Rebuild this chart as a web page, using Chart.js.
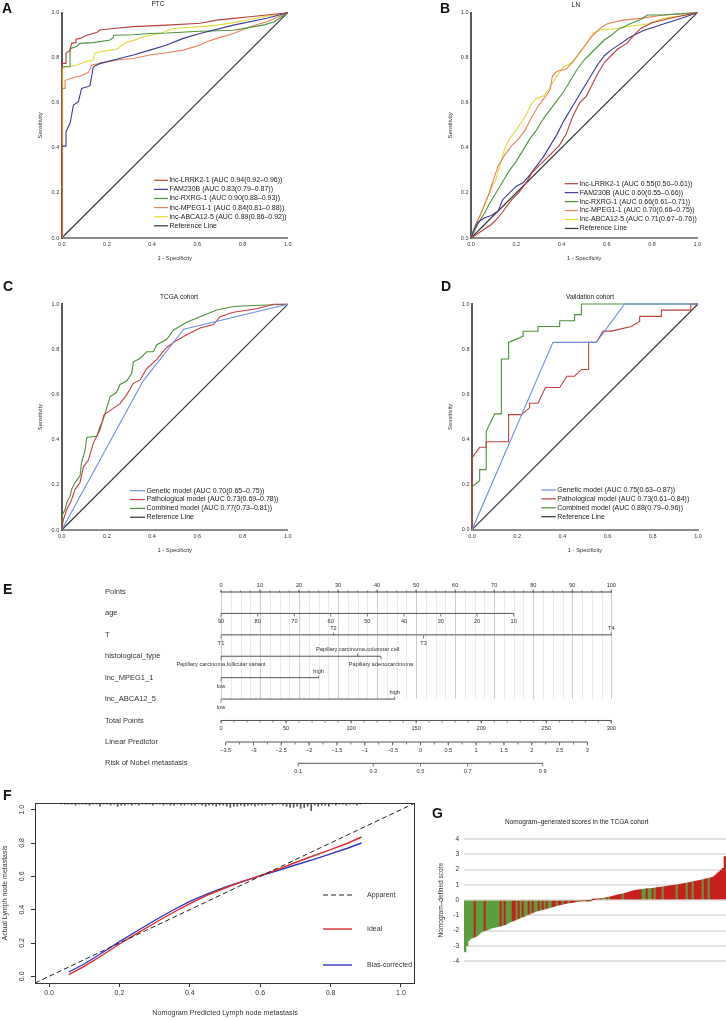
<!DOCTYPE html>
<html>
<head>
<meta charset="utf-8">
<script src="https://cdn.jsdelivr.net/npm/chart.js@4.4.0/dist/chart.umd.min.js"></script>
<style>
body { margin: 0; width: 726px; height: 1020px; position: relative; background: #fff; overflow: hidden; font-family: "Liberation Sans", Arial, sans-serif; }
canvas { position: absolute; }
.tag { position: absolute; font-weight: bold; font-size: 14px; line-height: 14px; color: #111; }
</style>
</head>
<body>
<canvas id="rocA" width="363" height="270" style="left:0;top:0"></canvas>
<canvas id="rocB" width="363" height="270" style="left:363px;top:0"></canvas>
<canvas id="rocC" width="363" height="292" style="left:0;top:270px"></canvas>
<canvas id="rocD" width="363" height="292" style="left:363px;top:270px"></canvas>
<canvas id="nomo" width="726" height="230" style="left:0;top:560px"></canvas>
<canvas id="calib" width="420" height="230" style="left:0;top:790px"></canvas>
<canvas id="scores" width="306" height="220" style="left:420px;top:800px"></canvas>
<div class="tag" style="left:2px;top:1px">A</div>
<div class="tag" style="left:440px;top:1px">B</div>
<div class="tag" style="left:3px;top:279px">C</div>
<div class="tag" style="left:441px;top:279px">D</div>
<div class="tag" style="left:3px;top:582px">E</div>
<div class="tag" style="left:3px;top:788px">F</div>
<div class="tag" style="left:432px;top:806px">G</div>
<script>
// ---- ROC data, [1 - specificity, sensitivity] ----
const rocTicks = [0, 0.2, 0.4, 0.6, 0.8, 1];
const referenceLine = [[0, 0], [1, 1]];

// A: PTC
const ptcLabels = ['lnc-LRRK2-1 (AUC 0.94(0.92\u20130.96))', 'FAM230B (AUC 0.83(0.79\u20130.87))', 'lnc-RXRG-1 (AUC 0.90(0.88\u20130.93))', 'lnc-MPEG1-1 (AUC 0.84(0.81\u20130.88))', 'lnc-ABCA12-5 (AUC 0.89(0.86\u20130.92))', 'Reference Line'];
const ptcLrrk2 = [[0,0],[0,0.775],[0.019,0.775],[0.019,0.82],[0.037,0.834],[0.044,0.864],[0.059,0.867],[0.063,0.882],[0.081,0.886],[0.111,0.9],[0.155,0.912],[0.169,0.923],[0.228,0.93],[0.317,0.938],[0.465,0.945],[0.612,0.953],[0.686,0.967],[0.76,0.975],[0.833,0.982],[1,1]];
const ptcFam230b = [[0,0],[0,0.408],[0.019,0.408],[0.019,0.472],[0.037,0.509],[0.052,0.59],[0.074,0.605],[0.088,0.664],[0.125,0.675],[0.14,0.76],[0.17,0.775],[0.243,0.793],[0.317,0.812],[0.39,0.834],[0.465,0.857],[0.538,0.886],[0.612,0.908],[0.76,0.945],[0.907,0.975],[1,1]];
const ptcRxrg = [[0,0],[0,0.76],[0.037,0.76],[0.037,0.84],[0.066,0.85],[0.081,0.864],[0.14,0.867],[0.214,0.879],[0.229,0.89],[0.229,0.9],[0.317,0.902],[0.39,0.908],[0.465,0.91],[0.612,0.918],[0.76,0.922],[0.834,0.935],[0.9,0.947],[0.94,0.96],[1,1]];
const ptcMpeg1 = [[0,0],[0,0.664],[0.015,0.664],[0.015,0.7],[0.044,0.709],[0.081,0.719],[0.118,0.734],[0.133,0.768],[0.17,0.775],[0.243,0.79],[0.317,0.797],[0.39,0.812],[0.465,0.822],[0.538,0.834],[0.612,0.857],[0.642,0.871],[0.686,0.886],[0.76,0.908],[0.833,0.938],[0.907,0.96],[1,1]];
const ptcAbca12 = [[0.004,0],[0.004,0.753],[0.022,0.76],[0.066,0.768],[0.11,0.783],[0.14,0.79],[0.147,0.82],[0.17,0.827],[0.214,0.834],[0.243,0.837],[0.288,0.87],[0.317,0.876],[0.361,0.893],[0.435,0.908],[0.494,0.93],[0.612,0.938],[0.686,0.945],[0.76,0.956],[0.892,0.982],[1,1]];

// B: LN
const lnLabels = ['lnc-LRRK2-1 (AUC 0.55(0.50\u20130.61))', 'FAM230B (AUC 0.60(0.55\u20130.66))', 'lnc-RXRG-1 (AUC 0.66(0.61\u20130.71))', 'lnc-MPEG1-1 (AUC 0.70(0.66\u20130.75))', 'lnc-ABCA12-5 (AUC 0.71(0.67\u20130.76))', 'Reference Line'];
const lnLrrk2 = [[0,0],[0.03,0.02],[0.06,0.04],[0.09,0.06],[0.12,0.09],[0.15,0.13],[0.18,0.17],[0.21,0.2],[0.24,0.24],[0.27,0.29],[0.3,0.32],[0.33,0.35],[0.36,0.38],[0.39,0.41],[0.42,0.46],[0.45,0.54],[0.48,0.6],[0.51,0.63],[0.53,0.67],[0.56,0.73],[0.59,0.78],[0.62,0.81],[0.65,0.84],[0.69,0.865],[0.72,0.9],[0.75,0.93],[0.8,0.955],[0.88,0.975],[0.95,0.99],[1,1]];
const lnFam230b = [[0,0],[0.01,0.03],[0.03,0.07],[0.06,0.09],[0.09,0.1],[0.12,0.12],[0.14,0.17],[0.17,0.2],[0.2,0.23],[0.23,0.245],[0.26,0.28],[0.29,0.32],[0.32,0.36],[0.35,0.41],[0.38,0.46],[0.41,0.52],[0.44,0.57],[0.47,0.62],[0.5,0.67],[0.53,0.72],[0.56,0.77],[0.59,0.81],[0.62,0.835],[0.65,0.855],[0.7,0.89],[0.76,0.92],[0.85,0.95],[0.93,0.975],[1,1]];
const lnRxrg = [[0,0],[0.02,0.04],[0.04,0.08],[0.06,0.11],[0.08,0.15],[0.11,0.2],[0.14,0.25],[0.17,0.3],[0.2,0.34],[0.23,0.39],[0.26,0.44],[0.29,0.48],[0.32,0.53],[0.35,0.57],[0.38,0.61],[0.41,0.65],[0.44,0.7],[0.47,0.75],[0.5,0.79],[0.53,0.82],[0.56,0.85],[0.59,0.88],[0.62,0.9],[0.65,0.925],[0.7,0.95],[0.75,0.97],[0.78,0.99],[0.85,0.99],[0.92,0.995],[1,1]];
const lnMpeg1 = [[0,0],[0.02,0.06],[0.04,0.1],[0.06,0.15],[0.08,0.2],[0.1,0.26],[0.12,0.32],[0.15,0.37],[0.18,0.41],[0.21,0.44],[0.24,0.48],[0.27,0.54],[0.3,0.59],[0.33,0.63],[0.35,0.66],[0.36,0.72],[0.38,0.74],[0.42,0.75],[0.44,0.77],[0.47,0.81],[0.5,0.85],[0.53,0.89],[0.57,0.93],[0.6,0.95],[0.67,0.967],[0.75,0.975],[0.85,0.99],[1,1]];
const lnAbca12 = [[0,0],[0.01,0.03],[0.03,0.08],[0.05,0.12],[0.07,0.17],[0.09,0.22],[0.11,0.26],[0.13,0.33],[0.15,0.4],[0.17,0.44],[0.2,0.48],[0.24,0.54],[0.27,0.6],[0.29,0.62],[0.32,0.63],[0.35,0.67],[0.38,0.72],[0.41,0.76],[0.45,0.78],[0.48,0.82],[0.51,0.86],[0.54,0.91],[0.58,0.925],[0.65,0.93],[0.7,0.94],[0.78,0.95],[0.85,0.975],[0.92,0.985],[1,1]];

// C: TCGA cohort
const tcgaLabels = ['Genetic model (AUC 0.70(0.65\u20130.75))', 'Pathological model (AUC 0.73(0.69\u20130.78))', 'Combined model (AUC 0.77(0.73\u20130.81))', 'Reference Line'];
const tcgaGenetic = [[0,0],[0.36,0.66],[0.54,0.89],[1,1]];
const tcgaPathological = [[0,0],[0.007,0.045],[0.022,0.09],[0.037,0.12],[0.044,0.135],[0.059,0.18],[0.081,0.21],[0.096,0.28],[0.118,0.31],[0.14,0.385],[0.17,0.445],[0.187,0.51],[0.229,0.54],[0.258,0.56],[0.288,0.6],[0.317,0.65],[0.347,0.665],[0.376,0.715],[0.42,0.755],[0.465,0.81],[0.509,0.84],[0.553,0.865],[0.612,0.895],[0.671,0.91],[0.701,0.945],[0.76,0.965],[0.863,0.98],[0.937,1],[1,1]];
const tcgaCombined = [[0,0],[0.004,0.07],[0.015,0.09],[0.022,0.12],[0.037,0.15],[0.044,0.18],[0.059,0.21],[0.081,0.24],[0.088,0.3],[0.103,0.35],[0.111,0.41],[0.155,0.415],[0.17,0.46],[0.184,0.49],[0.199,0.54],[0.214,0.59],[0.243,0.61],[0.258,0.645],[0.288,0.66],[0.31,0.695],[0.317,0.745],[0.347,0.76],[0.376,0.79],[0.406,0.79],[0.42,0.82],[0.465,0.845],[0.494,0.885],[0.553,0.92],[0.612,0.945],[0.686,0.975],[0.76,0.99],[0.85,0.995],[1,1]];

// D: Validation cohort
const valLabels = ['Genetic model (AUC 0.75(0.63\u20130.87))', 'Pathological model (AUC 0.73(0.61\u20130.84))', 'Combined model (AUC 0.88(0.79\u20130.96))', 'Reference Line'];
const valGenetic = [[0,0],[0.358,0.83],[0.55,0.83],[0.675,1],[1,1]];
const valPathological = [[0,0],[0,0.318],[0.034,0.365],[0.063,0.365],[0.063,0.39],[0.162,0.39],[0.162,0.51],[0.218,0.51],[0.255,0.54],[0.255,0.56],[0.292,0.56],[0.325,0.63],[0.388,0.63],[0.42,0.68],[0.454,0.68],[0.484,0.71],[0.516,0.71],[0.516,0.83],[0.55,0.83],[0.58,0.88],[0.616,0.88],[0.705,0.9],[0.742,0.923],[0.742,0.945],[0.838,0.945],[0.838,0.973],[0.968,0.973],[0.968,1],[1,1]];
const valCombined = [[0,0],[0,0.19],[0.034,0.217],[0.034,0.266],[0.063,0.266],[0.063,0.436],[0.1,0.513],[0.13,0.513],[0.13,0.756],[0.162,0.756],[0.162,0.83],[0.226,0.857],[0.226,0.879],[0.292,0.879],[0.292,0.9],[0.388,0.9],[0.388,0.926],[0.454,0.926],[0.454,0.953],[0.484,0.953],[0.484,1],[1,1]];

// ---- E: nomogram scales (position in points, 0-100) ----
const nomoRows = ['Points', 'age', 'T', 'histological_type', 'lnc_MPEG1_1', 'lnc_ABCA12_5', 'Total Points', 'Linear Predictor', 'Risk of Nobel metastasis'];
const pointsTicks = [0, 10, 20, 30, 40, 50, 60, 70, 80, 90, 100];
const ageValues = [90, 80, 70, 60, 50, 40, 30, 20, 10];
const agePoints = [0, 9.4, 18.8, 28.1, 37.5, 46.9, 56.3, 65.6, 75];
const tLevels = ['T1', 'T2', 'T3', 'T4'];
const tPoints = [0, 28.8, 51.9, 100];
const histLevels = ['Papillary carcinoma,follicular variant', 'Papillary carcinoma,columnar cell', 'Papillary adenocarcinoma'];
const histPoints = [0, 35, 41];
const mpegLevels = ['low', 'high'];
const mpegPoints = [0, 25];
const abcaLevels = ['low', 'high'];
const abcaPoints = [0, 44.5];
const totalTicks = [0, 50, 100, 150, 200, 250, 300];
const lpTicks = [-3.5, -3, -2.5, -2, -1.5, -1, -0.5, 0, 0.5, 1, 1.5, 2, 2.5, 3];
const riskTicks = [0.1, 0.3, 0.5, 0.7, 0.9];
const LP_ZERO_POINTS = 51.1;
const POINTS_PER_LP = 14.26;

// ---- F: calibration ----
const calibTicks = [0, 0.2, 0.4, 0.6, 0.8, 1];
const calibApparent = [[-0.04, -0.04], [1.04, 1.04]];
const calibIdeal = [[0.056,0.01],[0.1,0.06],[0.15,0.125],[0.2,0.194],[0.25,0.258],[0.3,0.32],[0.35,0.38],[0.4,0.436],[0.45,0.487],[0.5,0.53],[0.55,0.568],[0.6,0.604],[0.65,0.642],[0.7,0.683],[0.75,0.722],[0.8,0.76],[0.85,0.8],[0.888,0.836]];
const calibBias = [[0.056,0.026],[0.1,0.074],[0.15,0.14],[0.2,0.208],[0.25,0.272],[0.3,0.335],[0.35,0.395],[0.4,0.45],[0.45,0.495],[0.5,0.535],[0.55,0.57],[0.6,0.603],[0.65,0.635],[0.7,0.668],[0.75,0.7],[0.8,0.735],[0.85,0.77],[0.888,0.8]];
const rugX = [0.035,0.045,0.055,0.065,0.075,0.085,0.095,0.105,0.115,0.125,0.135,0.145,0.155,0.165,0.175,0.185,0.195,0.205,0.215,0.225,0.235,0.245,0.255,0.265,0.275,0.285,0.295,0.305,0.315,0.325,0.335,0.345,0.355,0.365,0.375,0.385,0.395,0.405,0.415,0.425,0.435,0.445,0.455,0.465,0.475,0.485,0.495,0.505,0.515,0.525,0.535,0.545,0.555,0.565,0.575,0.585,0.595,0.605,0.615,0.625,0.635,0.645,0.655,0.665,0.675,0.685,0.695,0.705,0.715,0.725,0.735,0.745,0.755,0.765,0.775,0.785,0.795,0.805,0.815,0.825,0.835,0.845,0.855,0.865,0.875,0.885];
const rugCount = [1,1,1,1,2,1,1,1,2,1,1,3,1,1,2,1,3,2,2,1,2,1,2,1,1,1,2,1,1,2,1,2,2,1,2,2,1,2,2,1,2,3,2,2,3,2,2,3,4,3,3,2,3,2,2,3,2,2,2,1,2,1,1,2,3,4,4,3,5,4,3,7,2,3,2,2,3,1,2,1,1,2,1,1,2,1];

// ---- G: nomogram scores, sorted (1 = metastasis, 0 = none) ----
const gScores = [
  -3.4, -3.0, -2.65, -2.52, -2.47, -2.42, -2.35, -2.25, -2.12, -2.06,
  -2.0, -1.97, -1.92, -1.86, -1.82, -1.79, -1.76, -1.73, -1.7, -1.66,
  -1.62, -1.55, -1.48, -1.42, -1.37, -1.32, -1.27, -1.21, -1.14, -1.1,
  -1.05, -0.98, -0.93, -0.88, -0.82, -0.77, -0.72, -0.69, -0.65, -0.62,
  -0.59, -0.55, -0.51, -0.48, -0.44, -0.4, -0.36, -0.33, -0.3, -0.27,
  -0.24, -0.21, -0.19, -0.17, -0.15, -0.13, -0.11, -0.09, -0.07, -0.05,
  -0.04, -0.03, -0.02, -0.01, 0.02, 0.04, 0.06, 0.08, 0.1, 0.12,
  0.14, 0.16, 0.19, 0.22, 0.25, 0.29, 0.32, 0.35, 0.38, 0.41,
  0.44, 0.48, 0.52, 0.56, 0.6, 0.63, 0.65, 0.67, 0.68, 0.7,
  0.72, 0.74, 0.75, 0.76, 0.77, 0.79, 0.81, 0.83, 0.85, 0.86,
  0.88, 0.9, 0.92, 0.94, 0.96, 0.98, 1.0, 1.02, 1.04, 1.07,
  1.09, 1.12, 1.14, 1.17, 1.2, 1.22, 1.25, 1.28, 1.31, 1.34,
  1.37, 1.4, 1.43, 1.46, 1.5, 1.6, 1.72, 1.84, 1.95, 2.08,
  2.85
];
const gGroup = [
  0,0,0,0,0,1,0,0,0,0,
  1,0,0,0,0,0,0,0,1,0,
  1,0,0,0,1,1,0,1,0,1,
  0,0,1,0,1,0,0,1,0,1,
  0,1,0,0,1,1,0,1,1,0,
  1,1,0,1,1,1,0,1,1,1,
  0,1,1,0,1,1,1,1,1,0,
  0,1,0,1,1,1,1,1,1,0,
  1,1,1,1,1,1,1,1,1,0,
  0,1,0,0,1,0,1,1,1,0,
  1,1,1,1,1,1,0,1,1,1,
  1,0,1,1,0,1,1,1,1,0,
  1,1,0,1,1,1,1,1,1,1,
  1
];

// ---------------------------------------------------------------
const FONT = '"Liberation Sans", Arial, sans-serif';
Chart.defaults.font.family = FONT;
Chart.defaults.color = '#333';
Chart.defaults.animation = false;
Chart.defaults.responsive = false;
Chart.defaults.devicePixelRatio = 1;
Chart.defaults.plugins.legend.display = false;
Chart.defaults.plugins.tooltip.enabled = false;

function xy(pairs) { return pairs.map(p => ({ x: p[0], y: p[1] })); }
function fixedTicks(values) { return s => { s.ticks = values.map(v => ({ value: v })); }; }
function range(a, b, step) {
  const out = [];
  for (let v = a; v <= b + 1e-9; v += step) out.push(+v.toFixed(4));
  return out;
}
function minusSign(v) { return String(v).replace('-', '\u2212'); }

const rocDecor = {
  id: 'rocDecor',
  afterDraw(chart, args, o) {
    const ctx = chart.ctx;
    ctx.save();
    ctx.fillStyle = '#222';
    ctx.textBaseline = 'middle';
    ctx.font = '6.5px ' + FONT;
    ctx.textAlign = 'center';
    ctx.fillText(o.title.text, o.title.x, o.title.y);
    ctx.font = '7px ' + FONT;
    ctx.textAlign = 'left';
    const lg = o.legend;
    chart.data.datasets.forEach((ds, i) => {
      const y = lg.y + i * lg.step;
      ctx.strokeStyle = ds.borderColor;
      ctx.lineWidth = 1.2;
      ctx.beginPath();
      ctx.moveTo(lg.x, y);
      ctx.lineTo(lg.x + lg.len, y);
      ctx.stroke();
      ctx.fillText(ds.label, lg.x + lg.len + 1.5, y);
    });
    ctx.restore();
  }
};

function rocChart(id, area, yTitleX, title, labels, curves, colors, legend) {
  const canvas = document.getElementById(id);
  const W = canvas.width, H = canvas.height;
  const datasets = curves.map((c, i) => ({
    label: labels[i],
    data: xy(c),
    borderColor: colors[i],
    borderWidth: 1.1,
    showLine: true,
    pointRadius: 0,
    tension: 0,
    clip: 3
  }));
  return new Chart(canvas, {
    type: 'scatter',
    data: { datasets: datasets },
    options: {
      layout: { padding: { left: 0, top: area.top, right: W - area.right, bottom: 0 } },
      plugins: { rocDecor: { title: title, legend: legend } },
      scales: {
        x: {
          type: 'linear', min: 0, max: 1,
          afterBuildTicks: fixedTicks(rocTicks),
          afterFit: s => { s.height = H - area.bottom; },
          grid: { display: false, drawTicks: false },
          border: { color: '#8c8c8c', width: 2 },
          ticks: { font: { size: 5.5 }, padding: 3, maxRotation: 0, callback: v => v.toFixed(1) },
          title: { display: true, text: '1 - Specificity', font: { size: 5.8 }, padding: { top: 0, bottom: 8.5 } }
        },
        y: {
          type: 'linear', min: 0, max: 1,
          afterBuildTicks: fixedTicks(rocTicks),
          afterFit: s => { s.width = area.left; },
          grid: { display: false, drawTicks: false },
          border: { color: '#5a5a5a', width: 2 },
          ticks: { font: { size: 5.5 }, padding: 2.5, callback: v => v.toFixed(1) },
          title: { display: true, text: 'Sensitivity', font: { size: 5.8 }, padding: { top: yTitleX - 3.5, bottom: 0 } }
        }
      }
    },
    plugins: [rocDecor]
  });
}

const geneColors = ['#b8403f', '#3b3b8f', '#4d9440', '#e6825a', '#e3d93a', '#333333'];
const modelColors = ['#6b8fe0', '#c0403f', '#4f8f3c', '#333333'];

rocChart('rocA', { left: 61.7, right: 287.7, top: 12.7, bottom: 238 }, 40,
  { text: 'PTC', x: 158, y: 4.6 }, ptcLabels,
  [ptcLrrk2, ptcFam230b, ptcRxrg, ptcMpeg1, ptcAbca12, referenceLine], geneColors,
  { x: 154, y: 180.3, len: 14, step: 9.1 });

rocChart('rocB', { left: 108, right: 334.3, top: 12.7, bottom: 238 }, 87,
  { text: 'LN', x: 213, y: 4.8 }, lnLabels,
  [lnLrrk2, lnFam230b, lnRxrg, lnMpeg1, lnAbca12, referenceLine], geneColors,
  { x: 201.7, y: 183.7, len: 13.5, step: 8.95 });

rocChart('rocC', { left: 61.7, right: 287.7, top: 34.3, bottom: 260 }, 40,
  { text: 'TCGA cohort', x: 179, y: 27.3 }, tcgaLabels,
  [tcgaGenetic, tcgaPathological, tcgaCombined, referenceLine], modelColors,
  { x: 130, y: 220.7, len: 15, step: 8.85 });

rocChart('rocD', { left: 109, right: 335, top: 34, bottom: 259.7 }, 87,
  { text: 'Validation cohort', x: 227, y: 27.3 }, valLabels,
  [valGenetic, valPathological, valCombined, referenceLine], modelColors,
  { x: 178.3, y: 220, len: 14.5, step: 8.9 });

// ---- E: nomogram ----
const lp2pts = lp => LP_ZERO_POINTS + lp * POINTS_PER_LP;
const logit = p => Math.log(p / (1 - p));

const nomoAxes = [
  { ticks: pointsTicks.map(v => ({ p: v, t: String(v), up: true })), minor: range(0, 100, 2.5).map(v => ({ p: v, up: true })), color: '#a0a0a0', width: 2 },
  { ticks: ageValues.map((v, i) => ({ p: agePoints[i], t: String(v), up: false })) },
  { ticks: tLevels.map((v, i) => ({ p: tPoints[i], t: v, up: i % 2 === 1 })), color: '#8a8a8a', width: 1.5 },
  { ticks: histLevels.map((v, i) => ({ p: histPoints[i], t: v, up: i % 2 === 1 })) },
  { ticks: mpegLevels.map((v, i) => ({ p: mpegPoints[i], t: v, up: i === 1 })) },
  { ticks: abcaLevels.map((v, i) => ({ p: abcaPoints[i], t: v, up: i === 1 })) },
  { ticks: totalTicks.map(v => ({ p: v / 3, t: String(v), up: false })), minor: range(0, 300, 10).map(v => ({ p: v / 3, up: false })) },
  { ticks: lpTicks.map(v => ({ p: lp2pts(v), t: minusSign(v), up: false })), minor: range(-3.5, 3, 0.25).map(v => ({ p: lp2pts(v), up: false })), color: '#8a8a8a', width: 1.5 },
  { ticks: riskTicks.map(v => ({ p: lp2pts(logit(v)), t: String(v), up: false })) }
];

const nomoDecor = {
  id: 'nomoDecor',
  beforeDatasetsDraw(chart) {
    const { ctx, scales: { x, y } } = chart;
    const top = y.getPixelForValue(0), bottom = y.getPixelForValue(5);
    ctx.save();
    ctx.lineWidth = 1;
    range(0, 100, 2.5).forEach(p => {
      const px = Math.round(x.getPixelForValue(p)) + 0.5;
      ctx.strokeStyle = p % 10 === 0 ? '#cdcdcd' : '#ebebeb';
      ctx.beginPath();
      ctx.moveTo(px, top);
      ctx.lineTo(px, bottom);
      ctx.stroke();
    });
    ctx.restore();
  },
  afterDatasetsDraw(chart) {
    const { ctx, scales: { x, y } } = chart;
    ctx.save();
    ctx.textBaseline = 'middle';
    ctx.fillStyle = '#333';
    ctx.font = '7.5px ' + FONT;
    ctx.textAlign = 'left';
    nomoRows.forEach((name, r) => ctx.fillText(name, 105, y.getPixelForValue(r)));
    ctx.font = '5.6px ' + FONT;
    ctx.textAlign = 'center';
    nomoAxes.forEach((axis, r) => {
      const py = Math.round(y.getPixelForValue(r)) + 0.5;
      ctx.strokeStyle = '#555';
      ctx.lineWidth = 0.8;
      (axis.minor || []).forEach(m => {
        const px = x.getPixelForValue(m.p);
        ctx.beginPath();
        ctx.moveTo(px, py);
        ctx.lineTo(px, py + (m.up ? -2 : 2));
        ctx.stroke();
      });
      axis.ticks.forEach(tk => {
        const px = x.getPixelForValue(tk.p);
        ctx.beginPath();
        ctx.moveTo(px, py);
        ctx.lineTo(px, py + (tk.up ? -3 : 3));
        ctx.stroke();
        ctx.fillText(tk.t, px, py + (tk.up ? -7.5 : 8));
      });
    });
    ctx.restore();
  }
};

new Chart(document.getElementById('nomo'), {
  type: 'scatter',
  data: {
    datasets: nomoAxes.map((axis, r) => {
      const ps = axis.ticks.map(t => t.p);
      return {
        data: [{ x: Math.min(...ps), y: r }, { x: Math.max(...ps), y: r }],
        borderColor: axis.color || '#555',
        borderWidth: axis.width || 1,
        showLine: true,
        pointRadius: 0,
        clip: false
      };
    })
  },
  options: {
    layout: { padding: { left: 221, right: 726 - 611.3, top: 32, bottom: 230 - 203.3 } },
    scales: {
      x: { type: 'linear', display: false, min: 0, max: 100 },
      y: { type: 'linear', display: false, min: 0, max: 8, reverse: true }
    }
  },
  plugins: [nomoDecor]
});

// ---- F: calibration ----
const calibDecor = {
  id: 'calibDecor',
  afterDraw(chart) {
    const { ctx, chartArea: a, scales: { y } } = chart;
    ctx.save();
    ctx.strokeStyle = '#333';
    ctx.lineWidth = 1;
    ctx.strokeRect(Math.round(a.left) + 0.5, Math.round(a.top) + 0.5, Math.round(a.right - a.left) - 1, Math.round(a.bottom - a.top));
    ctx.fillStyle = '#333';
    ctx.font = '7px ' + FONT;
    ctx.textAlign = 'center';
    ctx.textBaseline = 'middle';
    calibTicks.forEach(v => {
      ctx.save();
      ctx.translate(21.7, y.getPixelForValue(v));
      ctx.rotate(-Math.PI / 2);
      ctx.fillText(v.toFixed(1), 0, 0);
      ctx.restore();
    });
    const rows = [105, 139, 175];
    ctx.textAlign = 'left';
    chart.data.datasets.slice(0, 3).forEach((ds, i) => {
      ctx.strokeStyle = ds.borderColor;
      ctx.lineWidth = ds.borderWidth;
      ctx.setLineDash(ds.borderDash || []);
      ctx.beginPath();
      ctx.moveTo(323, rows[i]);
      ctx.lineTo(352, rows[i]);
      ctx.stroke();
      ctx.fillText(ds.label, 367, rows[i]);
    });
    ctx.restore();
  }
};

new Chart(document.getElementById('calib'), {
  type: 'scatter',
  data: {
    datasets: [
      { label: 'Apparent', data: xy(calibApparent), borderColor: '#222', borderWidth: 1, borderDash: [5, 3], showLine: true, pointRadius: 0 },
      { label: 'Ideal', data: xy(calibIdeal), borderColor: '#dd2a2a', borderWidth: 1.4, showLine: true, pointRadius: 0 },
      { label: 'Bias-corrected', data: xy(calibBias), borderColor: '#3434c6', borderWidth: 1.4, showLine: true, pointRadius: 0 },
      { type: 'bar', label: 'rug', data: rugX.map((v, i) => ({ x: v, y: [1.04, 1.04 - rugCount[i] * 0.0065] })), backgroundColor: '#555', barThickness: 1, grouped: false }
    ]
  },
  options: {
    layout: { padding: { left: 0, top: 13, right: 5, bottom: 0 } },
    scales: {
      x: {
        type: 'linear', min: -0.04, max: 1.04, offset: false,
        afterBuildTicks: fixedTicks(calibTicks),
        afterFit: s => { s.height = 37; },
        grid: { display: true, drawOnChartArea: false, drawTicks: true, tickLength: 4, color: '#333', offset: false },
        border: { display: false },
        ticks: { font: { size: 7 }, padding: 2, maxRotation: 0, callback: v => v.toFixed(1) },
        title: { display: true, text: 'Nomogram Predicted Lymph node metastasis', font: { size: 7.2 }, padding: { top: 0, bottom: 2.6 } }
      },
      y: {
        type: 'linear', min: -0.04, max: 1.04, beginAtZero: false,
        afterBuildTicks: fixedTicks(calibTicks),
        afterFit: s => { s.width = 35; },
        grid: { display: true, drawOnChartArea: false, drawTicks: true, tickLength: 4, color: '#333' },
        border: { display: false },
        ticks: { display: false },
        title: { display: true, text: 'Actual Lymph node metastasis', font: { size: 7 }, padding: { top: 0.8, bottom: 0 } }
      }
    }
  },
  plugins: [calibDecor]
});

// ---- G: nomogram-defined scores ----
const scoreTitle = {
  id: 'scoreTitle',
  afterDraw(chart) {
    const ctx = chart.ctx;
    ctx.save();
    ctx.fillStyle = '#222';
    ctx.font = '6.5px ' + FONT;
    ctx.textAlign = 'center';
    ctx.textBaseline = 'middle';
    ctx.fillText('Nomogram\u2013generated scores in the TCGA cohort', 156.7, 22);
    ctx.restore();
  }
};

new Chart(document.getElementById('scores'), {
  type: 'bar',
  data: {
    labels: gScores.map((v, i) => i + 1),
    datasets: [{
      data: gScores,
      backgroundColor: gGroup.map(g => g ? '#c91f1f' : '#5b9e3d'),
      borderWidth: 0,
      categoryPercentage: 1,
      barPercentage: 1
    }]
  },
  options: {
    layout: { padding: { left: 0, top: 39, right: 0, bottom: 59 } },
    scales: {
      x: { display: false },
      y: {
        min: -4, max: 4,
        afterBuildTicks: fixedTicks([-4, -3, -2, -1, 0, 1, 2, 3, 4]),
        afterFit: s => { s.width = 44; },
        grid: { color: '#e3e3e3', lineWidth: 2, drawTicks: false },
        border: { display: false },
        ticks: { font: { size: 6.5 }, padding: 5, callback: v => String(v) },
        title: { display: true, text: 'Nomogram\u2013defined score', font: { size: 6.5 }, padding: { top: 17, bottom: 0 } }
      }
    }
  },
  plugins: [scoreTitle]
});
</script>
</body>
</html>
